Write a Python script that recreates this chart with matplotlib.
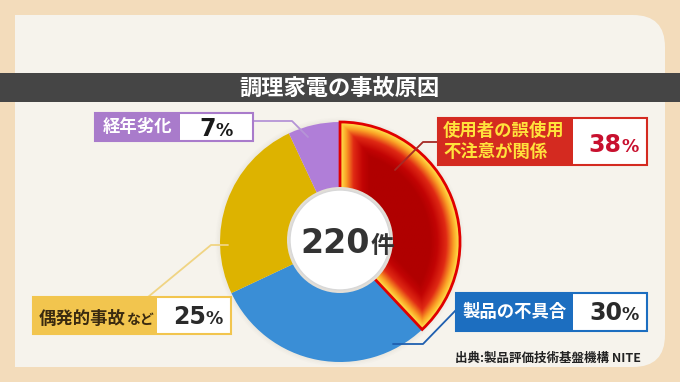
# -*- coding: utf8 -*-
import numpy as np
import matplotlib
matplotlib.use('Agg')
import matplotlib.pyplot as plt
import matplotlib.patches as mpatches
from matplotlib.colors import LinearSegmentedColormap

plt.rcParams['font.family'] = ['Noto Sans CJK JP', 'DejaVu Sans']
NUM_FONT = ['DejaVu Sans']

title = '調理家電の事故原因'
total = 220
categories = ['使用者の誤使用\n不注意が関係', '製品の不具合', '偶発的事故など', '経年劣化']
values = [38, 30, 25, 7]
source = '出典:製品評価技術基盤機構 NITE'

pie_colors = ['#C00000', '#3A8ED6', '#DDB300', '#B07ED8']
box_colors = ['#D42A20', '#1C6EC0', '#F2C54E', '#A97BCB']
text_colors = ['#FFE23C', 'white', '#3A2A10', 'white']
pct_colors = ['#C8102E', '#2A2A2A', '#2A2A2A', '#1A1A1A']
line_colors = ['#A52A25', '#1F5FAF', '#F0D483', '#B594D6']

W, H = 680, 382
fig = plt.figure(figsize=(W / 100, H / 100), dpi=100, facecolor='#F3DCBB')
ax = fig.add_axes([0, 0, 1, 1])
ax.set_facecolor('#F3DCBB')

# panel
panel = mpatches.FancyBboxPatch((15, 15), 650, 352,
                                boxstyle='round,pad=0,rounding_size=32',
                                fc='#F6F3EC', ec='none', zorder=0)
ax.add_patch(panel)
ax.add_patch(mpatches.Rectangle((15, 15), 80, 352, fc='#F6F3EC', ec='none', zorder=0))

# title bar
ax.add_patch(mpatches.Rectangle((0, 73), W, 29, fc='#454545', ec='none', zorder=1))
ax.text(340, 88, title, color='white', fontsize=16, fontweight='bold',
        ha='center', va='center', zorder=2)

# pie (y axis inverted -> counterclock in data is clockwise on screen)
cx, cy, R = 340, 242, 120
for k, a in enumerate([0.05, 0.04, 0.03]):
    ax.add_patch(mpatches.Circle((cx, cy), R + 1.5 + k * 1.5, fc='#B0A898',
                                 alpha=a, ec='none', zorder=1))
wedges, _ = ax.pie(values, colors=pie_colors, startangle=-90, counterclock=True,
                   center=(cx, cy), radius=R, explode=[0.03, 0, 0, 0],
                   frame=True, wedgeprops=dict(linewidth=0, zorder=2))
ax.set_xlim(0, W)
ax.set_ylim(H, 0)
ax.set_autoscale_on(False)

# glow gradient in the first wedge
w = wedges[0]
wx, wy = w.center
x0, x1, y0, y1 = cx - 10, cx + R + 10, cy - R - 10, cy + R + 10
xs = np.linspace(x0, x1, 300)
ys = np.linspace(y0, y1, 500)
gx, gy = np.meshgrid(xs, ys)
dx, dy = gx - wx, gy - wy
rr = np.hypot(dx, dy)
ang = np.degrees(np.arctan2(dy, dx))
a1 = np.radians((ang - w.theta1) % 360)
a2 = np.radians((w.theta2 - ang) % 360)
d1 = np.where(a1 < np.pi / 2, rr * np.sin(a1), rr)
d2 = np.where(a2 < np.pi / 2, rr * np.sin(a2), rr)
d = np.minimum(np.minimum(w.r - rr, d1), d2)
glow = LinearSegmentedColormap.from_list(
    'glow', [(0, '#FFEA50'), (0.2, '#FBA326'), (0.45, '#E02A14'), (0.75, '#C20404'),
             (1, '#B00000')])
img = ax.imshow(np.clip(d / 30, 0, 1), cmap=glow, vmin=0, vmax=1, origin='lower',
                extent=(x0, x1, y0, y1), zorder=3, interpolation='bilinear')
img.set_clip_path(w)
ax.add_patch(mpatches.Wedge(w.center, w.r, w.theta1, w.theta2, fill=False,
                            ec='#E00000', lw=2, zorder=4))

# center circle
ax.add_patch(mpatches.Circle((340, 240), 53, fc='#E2DED6', ec='none', zorder=5))
ax.add_patch(mpatches.Circle((340, 240), 50, fc='white', ec='#D8D8D8', lw=1, zorder=6))
ax.text(370, 253, str(total), fontsize=24, fontweight='bold', color='#333333',
        family=NUM_FONT, ha='right', va='baseline', zorder=7)
ax.text(371, 253, '件', fontsize=17, fontweight='bold', color='#333333',
        ha='left', va='baseline', zorder=7)

# label boxes: (left, top, split, right, bottom, number right edge, baseline)
boxes = [
    (438, 118, 573, 647, 165, 621, 152),
    (456, 293, 573, 647, 331, 622, 320),
    (33, 297, 157, 231, 334, 206, 324),
    (95, 113, 180, 253, 141, 216, 136),
]
leaders = [
    [(438, 142), (423, 142), (395, 170)],
    [(456, 310), (423, 344), (393, 344)],
    [(148, 297), (211, 245), (228, 245)],
    [(253, 121), (292, 121), (308, 137)],
]

fig.canvas.draw()
for i, cat in enumerate(categories):
    bl, bt, bs, br, bb, nx, by = boxes[i]
    ax.add_patch(mpatches.Rectangle((bl, bt), bs - bl, bb - bt, fc=box_colors[i],
                                    ec='none', zorder=8))
    ax.add_patch(mpatches.Rectangle((bs, bt), br - bs, bb - bt, fc='white',
                                    ec='none', zorder=8))
    ax.add_patch(mpatches.Rectangle((bl, bt), br - bl, bb - bt, fill=False,
                                    ec=box_colors[i], lw=1.5, zorder=9))
    px, py = zip(*leaders[i])
    ax.plot(px, py, color=line_colors[i], lw=1.3, zorder=7, solid_capstyle='round')

    if '\n' in cat:
        ax.text(bl + 5, (bt + bb) / 2, cat, color=text_colors[i], fontsize=12.5,
                fontweight='bold', ha='left', va='center', linespacing=1.25, zorder=10)
    elif cat.endswith('など'):
        t = ax.text(bl + 6, by, cat[:-2], color=text_colors[i],
                    fontsize=12.5, fontweight='bold', ha='left', va='baseline', zorder=10)
        ext = t.get_window_extent(renderer=fig.canvas.get_renderer())
        xe = ax.transData.inverted().transform((ext.x1, ext.y0))[0]
        ax.text(xe, by, 'など', color=text_colors[i], fontsize=10,
                fontweight='bold', ha='left', va='baseline', zorder=10)
    else:
        ax.text((bl + bs) / 2, (bt + bb) / 2, cat, color=text_colors[i], fontsize=12.5,
                fontweight='bold', ha='center', va='center', zorder=10)

    ax.text(nx, by, str(values[i]), color=pct_colors[i], fontsize=17,
            fontweight='bold', family=NUM_FONT, ha='right', va='baseline', zorder=10)
    ax.text(nx, by, '%', color=pct_colors[i], fontsize=12.5,
            fontweight='bold', family=NUM_FONT, ha='left', va='baseline', zorder=10)

ax.text(455, 358, source, color='#222222', fontsize=9, fontweight='bold',
        ha='left', va='center', zorder=10)

ax.set_aspect('auto')
ax.axis('off')

fig.savefig('out.png', dpi=100, facecolor=fig.get_facecolor())
